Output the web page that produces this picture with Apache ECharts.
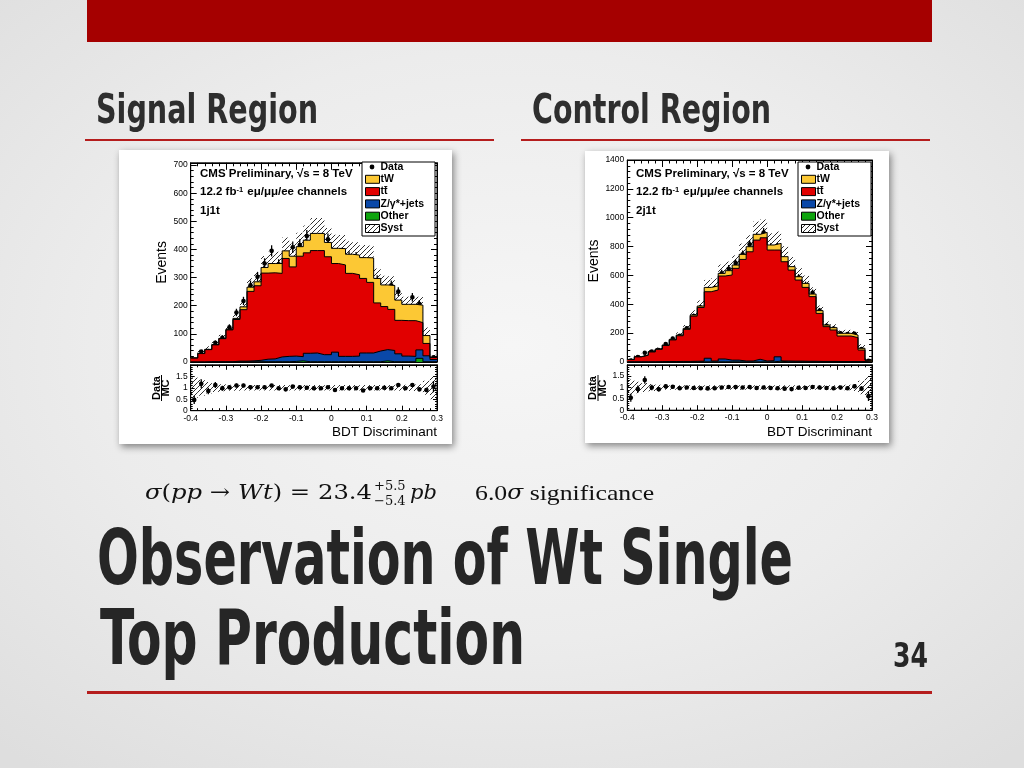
<!DOCTYPE html>
<html>
<head>
<meta charset="utf-8">
<title>Observation of Wt Single Top Production</title>
<script src="https://cdn.jsdelivr.net/npm/echarts@6/dist/echarts.min.js"></script>
<style>
html,body{margin:0;padding:0;}
body{width:1024px;height:768px;overflow:hidden;position:relative;
 background:radial-gradient(ellipse 75% 70% at 50% 45%, #f6f6f6 0%, #ececec 55%, #dedede 100%);}
.panel{position:absolute;background:#fff;box-shadow:2px 3px 7px rgba(0,0,0,0.45);}
#chart{position:absolute;left:0;top:0;width:1024px;height:768px;}
</style>
</head>
<body>
<div class="panel" style="left:119px;top:150px;width:333px;height:294px"></div>
<div class="panel" style="left:585px;top:151px;width:304px;height:292px"></div>
<div id="chart"></div>
<script>
// ---------------- data ----------------
const binCenters = [-0.39,-0.37,-0.35,-0.33,-0.31,-0.29,-0.27,-0.25,-0.23,-0.21,-0.19,-0.17,-0.15,-0.13,-0.11,-0.09,-0.07,-0.05,-0.03,-0.01,0.01,0.03,0.05,0.07,0.09,0.11,0.13,0.15,0.17,0.19,0.21,0.23,0.25,0.27,0.29];
const binWidth = 0.02;

// Signal region (1j1t)
const sr_tW    = [1,1,1,1,1,2,4,10,15,14,20,33,35,27,38,34,45,61,61,51,54,58,68,70,74,87,87,77,85,72,58,58,62,28,1];
const sr_tt    = [14,30,43,60,82,113,148,183,247,265,306,306,297,348,317,357,357,364,370,348,315,325,295,289,265,251,171,153,146,119,126,127,97,44,7];
const sr_Z     = [0,0,1,1,1,1,2,2,3,5,9,10,17,19,19,15,30,31,25,25,34,19,19,20,31,31,38,40,40,28,20,19,30,21,8];
const sr_other = [0,0,0,0,0,0,1,1,1,1,1,1,1,1,2,4,1,1,1,1,1,1,1,1,1,1,1,4,1,1,1,1,13,1,1];
const sr_data  = [7,37,39,68,86,123,176,217,273,303,350,395,347,372,408,416,448,433,433,436,374,386,374,372,329,353,291,258,273,250,187,230,206,84,17];
const sr_ratio = [0.47,1.17,0.86,1.12,0.98,1.02,1.1,1.1,1.02,1.02,1.02,1.1,0.98,0.93,1.05,1.02,1.0,0.98,0.98,1.02,0.9,0.98,0.98,0.98,0.88,0.98,0.98,1.0,0.98,1.12,0.98,1.12,0.93,0.9,1.05];
const sr_syst  = [0.45,0.35,0.25,0.18,0.15,0.13,0.13,0.12,0.12,0.12,0.12,0.12,0.12,0.12,0.12,0.12,0.12,0.12,0.12,0.12,0.12,0.12,0.12,0.12,0.12,0.12,0.12,0.12,0.12,0.13,0.13,0.14,0.15,0.3,0.5];

// Control region (2j1t)
const cr_tW    = [1,1,1,2,2,3,4,5,7,8,10,30,28,18,30,23,35,35,40,37,35,46,35,24,23,28,18,19,11,16,19,19,18,12,2];
const cr_tt    = [16,35,46,69,86,112,150,178,222,313,372,461,492,575,590,636,704,757,826,854,767,740,688,631,562,512,448,333,241,218,177,177,166,80,11];
const cr_Z     = [1,1,1,1,2,2,2,3,3,4,5,25,6,20,12,12,6,6,18,6,8,30,6,5,5,4,4,3,3,3,2,2,2,2,1];
const cr_other = [0,0,0,0,0,1,1,1,1,1,1,1,1,1,1,1,1,1,1,1,1,6,1,1,1,1,1,1,1,1,1,1,1,1,0];
const cr_data  = [10,34,64,72,83,124,162,181,233,319,376,496,511,614,646,685,746,815,867,898,795,797,694,615,585,534,480,356,251,231,199,193,196,90,9];
const cr_ratio = [0.55,0.93,1.33,1.0,0.92,1.05,1.03,0.97,1.0,0.98,0.97,0.96,0.97,1.0,1.02,1.02,1.0,1.02,0.98,1.0,0.98,0.97,0.95,0.93,0.99,0.98,1.02,1.0,0.98,0.97,1.0,0.97,1.05,0.95,0.62];
const cr_syst  = [0.35,0.25,0.2,0.15,0.12,0.1,0.1,0.1,0.1,0.1,0.1,0.1,0.1,0.1,0.1,0.1,0.1,0.1,0.1,0.1,0.1,0.1,0.1,0.1,0.1,0.1,0.1,0.1,0.1,0.1,0.1,0.12,0.15,0.3,0.45];

const legendNames = ['Data','tW','tt\u0304','Z/\u03b3*+jets','Other','Syst'];

// ---------------- styles ----------------
const COL = {tW:'#fcc834', tt:'#e10000', Z:'#0a48a8', other:'#0ea40e'};
const FONT = '"Liberation Sans", Arial, Helvetica, sans-serif';
const COND = '"Liberation Sans Narrow","DejaVu Sans Condensed","Liberation Sans",sans-serif';
const SERIF = '"Liberation Serif","Times New Roman",serif';
const MATH = '"DejaVu Serif","Liberation Serif",serif';

function makeHatch(){
  const s = 5, c = document.createElement('canvas');
  c.width = s; c.height = s;
  const g = c.getContext('2d');
  g.strokeStyle = 'rgba(25,25,25,0.9)'; g.lineWidth = 1;
  g.beginPath();
  g.moveTo(0, s); g.lineTo(s, 0);
  g.moveTo(-1, 1); g.lineTo(1, -1);
  g.moveTo(s - 1, s + 1); g.lineTo(s + 1, s - 1);
  g.stroke();
  return c;
}
const hatch = {image: makeHatch(), repeat: 'repeat'};

const mctx = document.createElement('canvas').getContext('2d');
function fitScale(text, font, width){ mctx.font = font; return width / mctx.measureText(text).width; }

function sumArr(a, b){ return a.map((v, i) => v + b[i]); }
function stepData(vals){
  const d = binCenters.map((c, i) => [c - binWidth / 2, vals[i]]);
  d.push([binCenters[binCenters.length - 1] + binWidth / 2, vals[vals.length - 1]]);
  return d;
}

// ---------------- axes ----------------
function xAxisPair(g, isRatio){
  const mk = (pos, labels) => ({
    gridIndex: g, type: 'value', min: -0.4, max: 0.3, interval: 0.1, position: pos,
    splitLine: {show: false},
    axisLine: {show: true, onZero: false, lineStyle: {color: '#000', width: 1}},
    axisTick: {show: true, inside: true, length: isRatio ? 5 : 7, lineStyle: {color: '#000', width: 1}},
    minorTick: {show: true, splitNumber: 5, length: isRatio ? 2.5 : 3.5, lineStyle: {color: '#000', width: 1}},
    axisLabel: {show: labels, fontSize: 8.5, fontFamily: FONT, color: '#000', margin: 3,
      formatter: v => Math.abs(v) < 1e-9 ? '0' : v.toFixed(1)}
  });
  return [mk('bottom', isRatio), mk('top', false)];
}
function yAxisPair(g, max, interval, isRatio, name, nameGap){
  const mk = (pos, labels) => ({
    gridIndex: g, type: 'value', min: 0, max: max, interval: interval, position: pos,
    splitLine: {show: false},
    axisLine: {show: true, onZero: false, lineStyle: {color: '#000', width: 1}},
    axisTick: {show: true, inside: true, length: isRatio ? 4 : 6, lineStyle: {color: '#000', width: 1}},
    minorTick: {show: true, splitNumber: 5, length: isRatio ? 2 : 3, lineStyle: {color: '#000', width: 1}},
    axisLabel: {show: labels, fontSize: 8.5, fontFamily: FONT, color: '#000', margin: 3, showMaxLabel: !isRatio,
      formatter: v => isRatio ? String(v) : (Math.abs(v % interval) < 1e-6 ? String(v) : '')},
    name: labels ? name : '', nameLocation: 'middle', nameGap: nameGap,
    nameTextStyle: {fontSize: 14, fontFamily: FONT, color: '#000'}
  });
  return [mk('left', true), mk('right', false)];
}

function renderBand(params, api){
  const x = api.value(0), lo = api.value(1), hi = api.value(2);
  const p1 = api.coord([x - binWidth / 2, hi]);
  const p2 = api.coord([x + binWidth / 2, lo]);
  return {type: 'rect', shape: {x: p1[0], y: p1[1], width: p2[0] - p1[0], height: p2[1] - p1[1]},
    style: {fill: hatch, stroke: null}};
}
function renderPoint(params, api){
  const x = api.value(0), y = api.value(1), e = api.value(2);
  const c = api.coord([x, y]);
  const t = api.coord([x, y + e]);
  const b = api.coord([x, Math.max(0, y - e)]);
  return {type: 'group', children: [
    {type: 'line', shape: {x1: c[0], y1: t[1], x2: c[0], y2: b[1]}, style: {stroke: '#000', lineWidth: 1.3}},
    {type: 'circle', shape: {cx: c[0], cy: c[1], r: 2.3}, style: {fill: '#000'}}
  ]};
}

function chartSeries(k, tW, tt, Z, other, data, ratio, syst){
  const xm = 4 * k, xr = 4 * k + 2;
  const cO = other.slice(), cZ = sumArr(cO, Z), cT = sumArr(cZ, tt), cW = sumArr(cT, tW);
  const hist = (vals, color, nm) => ({
    type: 'line', name: nm, xAxisIndex: xm, yAxisIndex: xm, data: stepData(vals), step: 'end',
    symbol: 'none', showSymbol: false, silent: true,
    lineStyle: {color: '#000', width: 1}, areaStyle: {color: color, opacity: 1, origin: 'start'}
  });
  return [
    hist(cW, COL.tW, 'tW'), hist(cT, COL.tt, 'tt'), hist(cZ, COL.Z, 'Z'), hist(cO, COL.other, 'Other'),
    {type: 'custom', name: 'Syst', xAxisIndex: xm, yAxisIndex: xm, renderItem: renderBand, silent: true, clip: true,
      data: binCenters.map((c, i) => [c, cW[i] * (1 - syst[i]), cW[i] * (1 + syst[i])])},
    {type: 'custom', name: 'Data', xAxisIndex: xm, yAxisIndex: xm, renderItem: renderPoint, silent: true,
      data: binCenters.map((c, i) => [c, data[i], Math.sqrt(data[i])])},
    {type: 'custom', xAxisIndex: xr, yAxisIndex: xr, renderItem: renderBand, silent: true, clip: true,
      data: binCenters.map((c, i) => [c, 1 - syst[i], 1 + syst[i]])},
    {type: 'custom', xAxisIndex: xr, yAxisIndex: xr, renderItem: renderPoint, silent: true, clip: true,
      data: binCenters.map((c, i) => [c, ratio[i], Math.sqrt(data[i]) / cW[i]])}
  ];
}

// ---------------- graphic helpers ----------------
function T(x, y, text, font, o){
  o = o || {};
  const al = o.align || 'left', va = o.va || 'middle';
  const el = {type: 'text', x: x, y: y, z: 100, silent: true,
    style: {text: text, font: font, fill: o.fill || '#000', align: al, verticalAlign: va, textAlign: al, textVerticalAlign: va}};
  if (o.rich) el.style.rich = o.rich;
  if (o.scaleX) el.scaleX = o.scaleX;
  if (o.rotation) el.rotation = o.rotation;
  return el;
}
function legendEls(Lx){
  const top = 162, rows = [167, 179.3, 191.6, 203.9, 216.2, 228.5];
  const f = 'bold 10.5px ' + FONT;
  const els = [{type: 'rect', z: 90, silent: true, shape: {x: Lx, y: top, width: 73, height: 74},
    style: {fill: '#fff', stroke: '#000', lineWidth: 1}}];
  els.push({type: 'circle', z: 95, silent: true, shape: {cx: Lx + 10, cy: rows[0], r: 2.4}, style: {fill: '#000'}});
  const sw = [COL.tW, COL.tt, COL.Z, COL.other, hatch];
  for (let i = 1; i < 6; i++) {
    els.push({type: 'rect', z: 95, silent: true, shape: {x: Lx + 3.5, y: rows[i] - 4, width: 14, height: 8},
      style: {fill: sw[i - 1], stroke: '#000', lineWidth: 1}});
  }
  legendNames.forEach((n, i) => els.push(T(Lx + 18.5, rows[i], n, f)));
  return els;
}
function plotTexts(x0, region){
  const f = 'bold 11.5px ' + FONT;
  return [
    T(x0, 174, 'CMS Preliminary, \u221As = 8 TeV', f),
    T(x0, 192, '{n|12.2 fb}{s|-1}{n| e\u03bc/\u03bc\u03bc/ee channels}', f, {rich: {
      n: {fontSize: 11.5, fontWeight: 'bold', fontFamily: FONT, fill: '#000'},
      s: {fontSize: 7.5, fontWeight: 'bold', fontFamily: FONT, fill: '#000', verticalAlign: 'top', padding: [0, 1, 0, 0]}}}),
    T(x0, 211, region, f)
  ];
}
function ratioLabel(xData, xLine, xMC){
  const f = 'bold 11px ' + FONT;
  return [
    T(xData, 388, 'Data', f, {align: 'center', rotation: Math.PI / 2}),
    T(xMC, 388, 'MC', f, {align: 'center', rotation: Math.PI / 2}),
    {type: 'line', z: 100, silent: true, shape: {x1: xLine, y1: 375, x2: xLine, y2: 401}, style: {stroke: '#000', lineWidth: 1}}
  ];
}

// ---------------- slide text ----------------
const titleFont = 'bold 76px ' + COND;
const headFont = 'bold 41px ' + COND;
const numFont = 'bold 34px ' + COND;
const mathFont = '21px ' + MATH;
const sigFont = '22px ' + SERIF;
const DARK = '#262626';

const graphics = [
  {type: 'rect', z: 1, silent: true, shape: {x: 87, y: 0, width: 845, height: 42}, style: {fill: '#a50000'}},
  {type: 'rect', z: 1, silent: true, shape: {x: 85, y: 139, width: 409, height: 2}, style: {fill: '#b51d1d'}},
  {type: 'rect', z: 1, silent: true, shape: {x: 521, y: 139, width: 409, height: 2}, style: {fill: '#b51d1d'}},
  {type: 'rect', z: 1, silent: true, shape: {x: 87, y: 691, width: 845, height: 3}, style: {fill: '#b51d1d'}},
  T(96, 112, 'Signal Region', headFont, {fill: '#2e2e2e', scaleX: fitScale('Signal Region', headFont, 222)}),
  T(532, 112, 'Control Region', headFont, {fill: '#2e2e2e', scaleX: fitScale('Control Region', headFont, 239)}),
  T(97, 564, 'Observation of Wt Single', titleFont, {fill: DARK, scaleX: fitScale('Observation of Wt Single', titleFont, 696)}),
  T(100, 644, 'Top Production', titleFont, {fill: DARK, scaleX: fitScale('Top Production', titleFont, 425)}),
  T(893, 658, '34', numFont, {fill: DARK, scaleX: fitScale('34', numFont, 35)}),
  T(145, 494, '{i|\u03c3}{n|(}{i|pp}{n| \u2192 }{i|Wt}{n|) = 23.4}', mathFont, {fill: '#111',
    scaleX: fitScale('\u03c3(pp \u2192 Wt) = 23.4', mathFont, 227),
    rich: {i: {fontFamily: MATH, fontStyle: 'italic', fontSize: 21, fill: '#111'}, n: {fontFamily: MATH, fontSize: 21, fill: '#111'}}}),
  T(374, 487, '+5.5', '13px ' + MATH, {fill: '#111'}),
  T(374, 502, '\u22125.4', '13px ' + MATH, {fill: '#111'}),
  T(410, 494, 'pb', 'italic 21px ' + MATH, {fill: '#111'}),
  T(475, 494, '{n|6.0}{i|\u03c3}{n| significance}', sigFont, {fill: '#111',
    scaleX: fitScale('6.0\u03c3 significance', sigFont, 177),
    rich: {n: {fontFamily: SERIF, fontSize: 22, fill: '#111'}, i: {fontFamily: MATH, fontStyle: 'italic', fontSize: 20, fill: '#111'}}}),
  T(437, 432, 'BDT Discriminant', '13.5px ' + FONT, {align: 'right'}),
  T(872, 432, 'BDT Discriminant', '13.5px ' + FONT, {align: 'right'})
].concat(legendEls(362), legendEls(798), plotTexts(200, '1j1t'), plotTexts(636, '2j1t'),
  ratioLabel(156.5, 161.5, 165.5), ratioLabel(593, 598, 602.5));

// ---------------- option ----------------
const grids = [
  {left: 190.7, top: 162.8, width: 246.3, height: 199.2},
  {left: 190.7, top: 364.8, width: 246.3, height: 45.9},
  {left: 627.3, top: 160, width: 244.7, height: 202},
  {left: 627.3, top: 364.8, width: 244.7, height: 45.4}
].map(g => Object.assign(g, {show: true, borderColor: '#000', borderWidth: 1, backgroundColor: 'transparent', containLabel: false, outerBoundsMode: 'none'}));

const option = {
  animation: false,
  backgroundColor: 'transparent',
  grid: grids,
  xAxis: [].concat(xAxisPair(0, false), xAxisPair(1, true), xAxisPair(2, false), xAxisPair(3, true)),
  yAxis: [].concat(
    yAxisPair(0, 708, 100, false, 'Events', 22),
    yAxisPair(1, 2, 0.5, true, '', 0),
    yAxisPair(2, 1400, 200, false, 'Events', 23),
    yAxisPair(3, 2, 0.5, true, '', 0)),
  series: [].concat(
    chartSeries(0, sr_tW, sr_tt, sr_Z, sr_other, sr_data, sr_ratio, sr_syst),
    chartSeries(1, cr_tW, cr_tt, cr_Z, cr_other, cr_data, cr_ratio, cr_syst)),
  graphic: {elements: graphics}
};

const chart = echarts.init(document.getElementById('chart'), null, {renderer: 'canvas'});
chart.setOption(option);
</script>
</body>
</html>
